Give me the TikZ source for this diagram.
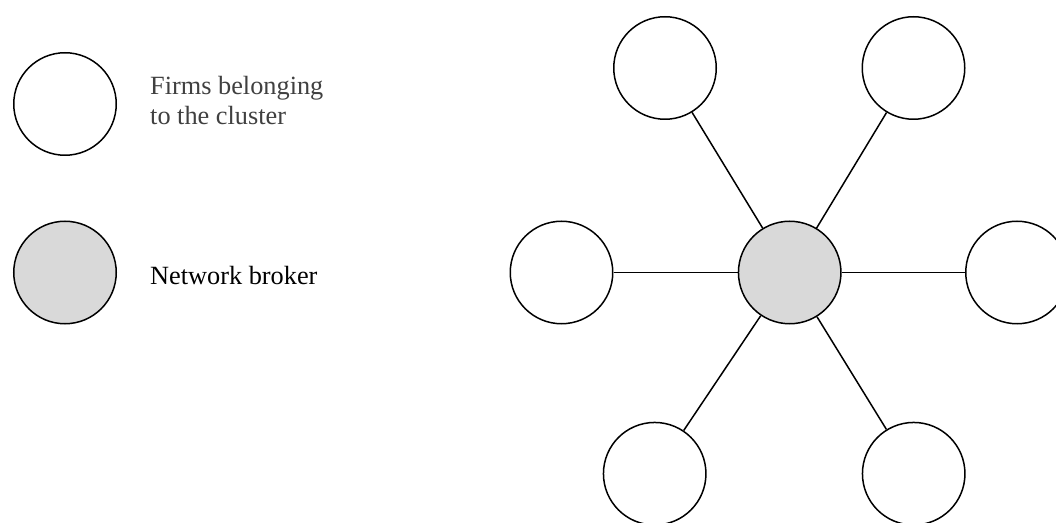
\documentclass[tikz,border=0pt]{standalone}
\usepackage{fontspec}
\setmainfont{Liberation Serif}
\definecolor{brokergray}{HTML}{D9D9D9}
\definecolor{labelgray}{HTML}{404040}
\tikzset{
  firm/.style={circle, draw=black, line width=1.5pt, fill=white, minimum size=102.5pt, inner sep=0pt},
  broker/.style={firm, fill=brokergray},
  link/.style={draw=black, line width=1.5pt},
  label/.style={font=\fontsize{26.3}{30}\selectfont, inner sep=0pt, align=left, anchor=base west}
}
\begin{document}
\begin{tikzpicture}[x=1pt,y=1pt]
  \useasboundingbox (0,0) rectangle (1056,522);
  \clip (0,0) rectangle (1056,522);
  % legend
  \node[firm] (legfirm) at (65,418) {};
  \node[broker] (legbroker) at (65,249.5) {};
  \node[label, text=labelgray] (legfirmtext) at (150,397) {Firms belonging\\to the cluster};
  \node[label, text=black] (legbrokertext) at (150,237) {Network broker};
  % network
  \node[broker] (b) at (789.7,249.5) {};
  \node[firm] (l) at (561.5,249.5) {};
  \node[firm] (r) at (1017,249.5) {};
  \node[firm] (tl) at (665,454) {};
  \node[firm] (tr) at (913.5,454) {};
  \node[firm] (bl) at (654.7,48.3) {};
  \node[firm] (br) at (913.7,48.3) {};
  \foreach \n in {l,r,tl,tr,bl,br} {
    \path[link] (b) -- (\n);
  }
\end{tikzpicture}
\end{document}
